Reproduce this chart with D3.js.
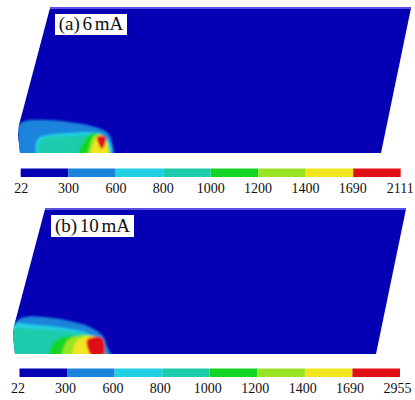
<!DOCTYPE html>
<head>
  <meta charset="utf-8">
  <script src="https://d3js.org/d3.v7.min.js"></script>
  <style>
  body,html {margin:0;background:#fff;overflow:hidden;}
  text {font-family:"Liberation Serif",serif;fill:#111;}
  .tick line, .domain {display:none;}
  </style>
</head>

<body>
  <script>

    // temperature levels of the colour bars
    const levels = [22, 300, 600, 800, 1000, 1200, 1400, 1690];
    const levelColors = ["#0500b4", "#1a84dc", "#22d0e6", "#1cccac", "#12d424", "#98e424", "#f0e620", "#e01018"];
    const ticksA = ["22", "300", "600", "800", "1000", "1200", "1400", "1690", "2111"];
    const ticksB = ["22", "300", "600", "800", "1000", "1200", "1400", "1690", "2955"];

    // plate outline, model units
    const plate = [[0,0],[-2,18],[-1,28],[30,145],[391,145],[361,0]];

    // isotherm outlines, model units, hottest last
    const levelsA = [300, 600, 800, 1000, 1200, 1400, 1690];
    const shapesA = [
      [[0,-4],[-2,18],[-1,28],[5,32],[25,33],[50,31],[75,26],[88,20],[92,10],[92,-4]],
      [[18,-4],[18,14],[28,18],[50,20],[70,21],[82,19],[90,10],[91,-4]],
      [[20,-4],[20,12],[30,16],[50,17],[66,18],[80,16],[88,8],[90,-4]],
      [[58,-4],[62,8],[66,15],[74,20],[82,16],[89,-4]],
      [[68,-4],[70,8],[73,16],[79,19],[86,12],[88,-4]],
      [[71,0],[74,10],[77,17],[84,16],[88,-4],[78,-4]],
      [[77,16],[86,16],[82,4]]
    ];
    const levelsB = [300, 600, 800, 1000, 1200, 1400, 1690];
    const shapesB = [
      [[1,-4],[-1,19],[1,32],[10,37],[30,37],[55,33],[75,27],[88,18],[92,8],[96,-4]],
      [[-2,-4],[-2,29],[20,29],[50,26],[72,21],[84,12],[89,-4]],
      [[-2,-4],[-2,25],[20,25],[50,23],[72,19],[84,10],[89,-4]],
      [[35,-4],[38,10],[46,16],[60,18],[78,18],[86,8],[89,-4]],
      [[48,-4],[50,10],[56,16],[76,18],[86,10],[89,-4]],
      [[58,-4],[60,10],[66,16],[82,17],[88,8],[89,-4]],
      [[72,14],[87,16],[88,-4],[78,-4]]
    ];

    const panels = [
      {id:"a", label:"(a) 6 mA", ticks:ticksA, lev:levelsA, shapes:shapesA, px:[20,381], py:[153,8],
       bar:[20.7,400.7], barY:168.5, tickDx:0, box:[55,14,72,21]},
      {id:"b", label:"(b) 10 mA", ticks:ticksB, lev:levelsB, shapes:shapesB, px:[15,376], py:[354,209],
       bar:[19.5,400], barY:368.5, tickDx:-2, box:[51,215,83,22]}
    ];

    const width = 415, height = 400;
    const svg = d3.select("body").append("svg").attr("width", width).attr("height", height);
    const defs = svg.append("defs");
    defs.append("filter").attr("id", "soft").append("feGaussianBlur").attr("stdDeviation", 1);

    const color = d3.scaleThreshold().domain(levels.slice(1)).range(levelColors);

    panels.forEach(p => {
      const x = d3.scaleLinear().domain([0, 361]).range(p.px);
      const y = d3.scaleLinear().domain([0, 145]).range(p.py);
      const flat = d3.line().x(d => x(d[0])).y(d => y(d[1]));
      const round = d3.line().x(d => x(d[0])).y(d => y(d[1])).curve(d3.curveCatmullRomClosed);

      defs.append("clipPath").attr("id", "clip" + p.id).append("path").attr("d", flat(plate) + "Z");

      const g = svg.append("g");
      g.append("path").attr("d", flat(plate) + "Z").attr("fill", color(22));
      // lighter top edge of the plate
      g.append("path").attr("d", flat([plate[3], plate[4]])).attr("stroke", "#5a50e4").attr("stroke-width", 2).attr("fill", "none");

      const inner = g.append("g").attr("clip-path", `url(#clip${p.id})`).append("g").attr("filter", "url(#soft)");
      inner.selectAll("path").data(p.shapes).enter().append("path")
        .attr("d", d => round(d))
        .attr("fill", (d, i) => color(p.lev[i]));

      // colour bar
      const barX = d3.scaleBand().domain(levels).range(p.bar);
      svg.append("g").selectAll("rect").data(levels).enter().append("rect")
        .attr("x", d => barX(d))
        .attr("y", p.barY)
        .attr("width", barX.bandwidth())
        .attr("height", 8.5)
        .attr("fill", d => color(d));

      const tickX = d3.scalePoint().domain(p.ticks).range([p.bar[0] + p.tickDx, p.bar[1] - 1 + p.tickDx]);
      const axis = svg.append("g")
        .attr("transform", `translate(0,${p.barY + 10})`)
        .call(d3.axisBottom(tickX).tickSize(0).tickPadding(5));
      axis.selectAll("text").attr("font-size", 14).style("font-family", '"Liberation Serif",serif').attr("fill", "#111");
      axis.select(".domain").remove();

      // label box
      svg.append("rect").attr("x", p.box[0]).attr("y", p.box[1]).attr("width", p.box[2]).attr("height", p.box[3]).attr("fill", "#fff");
      svg.append("text").attr("x", p.box[0] + p.box[2] / 2).attr("y", p.box[1] + p.box[3] - 5)
        .attr("text-anchor", "middle").attr("font-size", 19).attr("word-spacing", -2).text(p.label);
    });

  </script>
</body>
